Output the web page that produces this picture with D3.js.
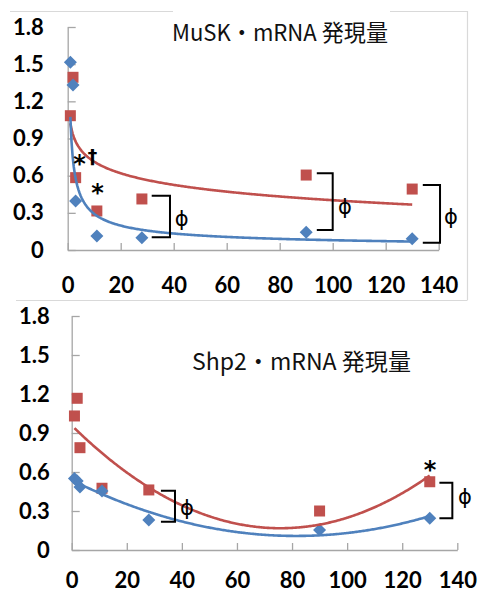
<!DOCTYPE html>
<html>
<head>
<meta charset="utf-8">
<script src="https://cdn.jsdelivr.net/npm/d3@7"></script>
<style>
  body { margin: 0; background: #fff; }
  .tick text { font-family: Lato, "Open Sans", sans-serif; font-weight: bold; font-size: 22px; fill: #000; }
  .axis path, .axis line { stroke: #a6a6a6; stroke-width: 1.3; }
</style>
</head>
<body>
<div id="chart"></div>
<script>
// sampling days (x) shared by both panels
var days = [1, 2, 3, 11, 28, 90, 130];

// MuSK mRNA
var muskBlue = [1.515, 1.332, 0.395, 0.113, 0.099, 0.143, 0.091];
var muskRed  = [1.084, 1.394, 0.584, 0.315, 0.412, 0.605, 0.492];

// Shp2 mRNA
var shp2Blue = [0.55, 0.53, 0.485, 0.454, 0.231, 0.154, 0.244];
var shp2Red  = [1.031, 1.167, 0.787, 0.475, 0.462, 0.30, 0.525];

var xTicks = [0, 20, 40, 60, 80, 100, 120, 140];
var yTicks = [0, 0.3, 0.6, 0.9, 1.2, 1.5, 1.8];

var titles = ["MuSK・mRNA 発現量", "Shp2・mRNA 発現量"];

// significance marks (data coords)
var muskBrackets = [
  {x0: 31.7, x1: 38.6, yTop: 0.438, yBot: 0.102},
  {x0: 94,   x1: 100,  yTop: 0.619, yBot: 0.161},
  {x0: 134,  x1: 140.5, yTop: 0.525, yBot: 0.059}
];
var muskPhi = [{x: 43, y: 0.256}, {x: 104.6, y: 0.349}, {x: 144.6, y: 0.274}];
var muskStars = [{x: 4.45, y: 0.743, t: "*"}, {x: 9.4, y: 0.745, t: "†"}, {x: 11.3, y: 0.508, t: "*"}];

var shp2Brackets = [
  {x0: 32.4, x1: 37.5, yTop: 0.456, yBot: 0.218},
  {x0: 133.5, x1: 138.2, yTop: 0.518, yBot: 0.244}
];
var shp2Phi = [{x: 41.8, y: 0.328}, {x: 142.8, y: 0.41}];
var shp2Stars = [{x: 130.1, y: 0.662, t: "*"}];

var BLUE = "#4f81bd", RED = "#c0504d";

// --- trendline fits (as Excel does them) ---
function logFit(xs, ys) {
  var lx = xs.map(Math.log);
  var mx = d3.mean(lx), my = d3.mean(ys);
  var sxy = d3.sum(lx, function (v, i) { return (v - mx) * (ys[i] - my); });
  var sxx = d3.sum(lx, function (v) { return (v - mx) * (v - mx); });
  var a = sxy / sxx, b = my - a * mx;
  return function (x) { return a * Math.log(x) + b; };
}
function powerFit(xs, ys) {
  var ly = ys.map(Math.log);
  var f = logFit(xs, ly);
  return function (x) { return Math.exp(f(x)); };
}
function polyFit2(xs, ys) {
  // normal equations for y = c0 + c1 x + c2 x^2
  var s = [0, 0, 0, 0, 0], t = [0, 0, 0];
  xs.forEach(function (x, i) {
    for (var k = 0; k < 5; k++) s[k] += Math.pow(x, k);
    for (var k2 = 0; k2 < 3; k2++) t[k2] += ys[i] * Math.pow(x, k2);
  });
  var M = [[s[0], s[1], s[2], t[0]], [s[1], s[2], s[3], t[1]], [s[2], s[3], s[4], t[2]]];
  for (var c = 0; c < 3; c++) {
    for (var r = c + 1; r < 3; r++) {
      var f = M[r][c] / M[c][c];
      for (var j = c; j < 4; j++) M[r][j] -= f * M[c][j];
    }
  }
  var co = [0, 0, 0];
  for (var r2 = 2; r2 >= 0; r2--) {
    var v = M[r2][3];
    for (var j2 = r2 + 1; j2 < 3; j2++) v -= M[r2][j2] * co[j2];
    co[r2] = v / M[r2][r2];
  }
  return function (x) { return co[0] + co[1] * x + co[2] * x * x; };
}

var svg = d3.select("#chart").append("svg")
  .attr("width", 483).attr("height", 593);

// chart frames (partly hidden by the title box)
var frame = svg.append("g").attr("stroke", "#d9d9d9").attr("stroke-width", 1.2).attr("fill", "none");
frame.append("path").attr("d", "M10,11.5H173M390,11.5H467.5V300");
frame.append("path").attr("d", "M16,300.5H467.5");

function drawPanel(opt) {
  var x = d3.scaleLinear().domain([0, 140]).range(opt.xRange);
  var y = d3.scaleLinear().domain([0, 1.8]).range(opt.yRange);
  var g = svg.append("g");

  g.append("g").attr("class", "axis")
    .attr("transform", "translate(0," + opt.yRange[0] + ")")
    .call(d3.axisBottom(x).tickValues(xTicks).tickSizeInner(-7).tickSizeOuter(0).tickPadding(opt.xPad))
    .call(function (a) { a.select(".domain").attr("stroke", "#a6a6a6"); });

  g.append("g").attr("class", "axis")
    .attr("transform", "translate(" + opt.xRange[0] + ",0)")
    .call(d3.axisLeft(y).tickValues(yTicks).tickSizeInner(-8).tickSizeOuter(0).tickPadding(opt.yPad)
      .tickFormat(function (d) { return String(d); }))
    .call(function (a) { a.select(".domain").attr("stroke", "#a6a6a6"); });

  var pts = function (vals) { return days.map(function (d, i) { return {x: d, y: vals[i]}; }); };

  // red squares
  g.append("g").selectAll("rect").data(pts(opt.red)).enter().append("rect")
    .attr("x", function (d) { return x(d.x) - 5.5; })
    .attr("y", function (d) { return y(d.y) - 5.5; })
    .attr("width", 11).attr("height", 11)
    .attr("fill", RED);

  // blue diamonds
  g.append("g").selectAll("path").data(pts(opt.blue)).enter().append("path")
    .attr("d", function (d) {
      var cx = x(d.x), cy = y(d.y), r = 6.5;
      return "M" + cx + "," + (cy - r) + "L" + (cx + r) + "," + cy + "L" + cx + "," + (cy + r) + "L" + (cx - r) + "," + cy + "Z";
    })
    .attr("fill", BLUE);

  // trendlines
  var xs = d3.range(0, 301).map(function (i) { return 1 + (130 - 1) * i / 300; });
  var line = d3.line().x(function (d) { return x(d[0]); }).y(function (d) { return y(d[1]); });
  [[opt.redFit, RED], [opt.blueFit, BLUE]].forEach(function (p) {
    g.append("path")
      .datum(xs.map(function (v) { return [v, p[0](v)]; }))
      .attr("d", line)
      .attr("fill", "none")
      .attr("stroke", p[1])
      .attr("stroke-width", 2.6);
  });

  // brackets
  g.append("g").selectAll("path").data(opt.brackets).enter().append("path")
    .attr("d", function (d) {
      return "M" + x(d.x0) + "," + y(d.yTop) + "H" + x(d.x1) + "V" + y(d.yBot) + "H" + x(d.x0);
    })
    .attr("fill", "none").attr("stroke", "#000").attr("stroke-width", 2);

  g.append("g").selectAll("text").data(opt.phi).enter().append("text")
    .attr("x", function (d) { return x(d.x); })
    .attr("y", function (d) { return y(d.y); })
    .attr("dy", "0.36em")
    .attr("text-anchor", "middle")
    .style("font-family", "'DejaVu Sans', sans-serif")
    .style("font-size", "21px")
    .text("ϕ");

  g.append("g").selectAll("text").data(opt.stars).enter().append("text")
    .attr("x", function (d) { return x(d.x); })
    .attr("y", function (d) { return y(d.y); })
    .attr("dy", function (d) { return d.t === "*" ? "0.6em" : "0.3em"; })
    .attr("text-anchor", "middle")
    .style("font-family", "'DejaVu Sans', sans-serif")
    .style("font-weight", "bold")
    .style("font-size", function (d) { return d.t === "*" ? "24px" : "19px"; })
    .text(function (d) { return d.t; });

  g.append("text")
    .attr("x", opt.title[0]).attr("y", opt.title[1])
    .attr("textLength", opt.title[2]).attr("lengthAdjust", "spacingAndGlyphs")
    .style("font-family", "'Noto Sans CJK JP', sans-serif")
    .style("font-size", "23px")
    .attr("fill", "#111")
    .text(opt.titleText);
}

drawPanel({
  xRange: [67.7, 438.7], yRange: [250, 27], yPad: 24, xPad: 27,
  blue: muskBlue, red: muskRed,
  blueFit: powerFit(days, muskBlue), redFit: logFit(days, muskRed),
  brackets: muskBrackets, phi: muskPhi, stars: muskStars,
  title: [172, 41, 216], titleText: titles[0]
});

drawPanel({
  xRange: [71.7, 457.3], yRange: [550, 316], yPad: 22, xPad: 22,
  blue: shp2Blue, red: shp2Red,
  blueFit: polyFit2(days, shp2Blue), redFit: polyFit2(days, shp2Red),
  brackets: shp2Brackets, phi: shp2Phi, stars: shp2Stars,
  title: [192, 370, 219], titleText: titles[1]
});
</script>
</body>
</html>
